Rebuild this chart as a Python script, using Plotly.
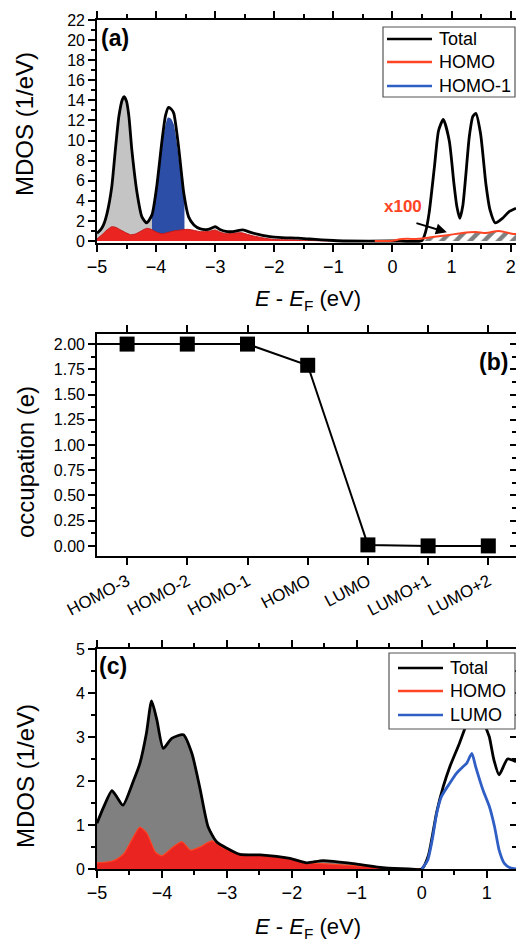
import plotly.graph_objects as go

W, H = 516, 942
FONT = "Liberation Sans, Arial, sans-serif"

# ---------------- panel (a) data ----------------
a_x = [-5.00, -4.94, -4.89, -4.83, -4.75, -4.69, -4.63, -4.57, -4.54, -4.50, -4.46, -4.41,
       -4.32, -4.24, -4.16, -4.07, -3.99, -3.90, -3.84, -3.79, -3.74, -3.70, -3.62, -3.53,
       -3.45, -3.36, -3.25, -3.12, -3.00, -2.92, -2.82, -2.70, -2.53, -2.40, -2.27, -2.15,
       -2.00, -1.80, -1.60, -1.40, -1.20, -1.00, -0.80, 0.00, 0.50, 0.56, 0.62, 0.71, 0.78,
       0.86, 0.96, 1.04, 1.09, 1.14, 1.19, 1.24, 1.30, 1.36, 1.41, 1.49, 1.58, 1.65, 1.74,
       1.86, 1.97, 2.09]
a_total = [0.77, 1.1, 1.6, 2.75, 5.4, 9.05, 12.4, 14.1, 14.36, 13.9, 12.4, 9.05,
           4.7, 2.4, 1.8, 2.6, 5.4, 10.0, 12.5, 13.3, 13.1, 12.7, 9.4, 4.7,
           2.4, 1.6, 1.2, 1.15, 1.42, 1.15, 0.95, 0.93, 1.1, 0.85, 0.65, 0.5,
           0.38, 0.32, 0.28, 0.2, 0.12, 0.05, 0.0, 0.0, 0.05, 0.9, 2.8, 7.4, 11.0,
           12.1, 10.0, 5.7, 3.4, 2.25, 3.5, 6.5, 10.4, 12.4, 12.7, 10.7, 5.7, 3.1, 1.8,
           2.25, 2.9, 3.25]

a_homo_x = [-5.00, -4.92, -4.83, -4.75, -4.68, -4.60, -4.52, -4.43, -4.35, -4.25, -4.16,
            -4.08, -4.00, -3.90, -3.80, -3.70, -3.60, -3.47, -3.35, -3.25, -3.12, -3.00,
            -2.90, -2.80, -2.70, -2.55, -2.45, -2.35, -2.20, -2.00, -1.80, -1.60, -1.40,
            -1.20, -1.00]
a_homo = [0.2, 0.6, 1.1, 1.42, 1.35, 1.1, 0.85, 0.62, 0.7, 1.0, 1.26,
          1.15, 0.9, 0.72, 0.85, 1.0, 1.08, 1.16, 1.05, 0.93, 0.95, 1.1,
          0.85, 0.72, 0.78, 0.82, 0.65, 0.5, 0.32, 0.15, 0.12, 0.1, 0.05,
          0.02, 0.0]

a_homo1_x = [-4.07, -4.00, -3.95, -3.90, -3.85, -3.80, -3.75, -3.70, -3.65, -3.60, -3.55, -3.52]
a_homo1 = [2.6, 4.9, 7.2, 9.6, 11.3, 12.3, 12.2, 11.6, 9.8, 7.5, 5.2, 3.9]
a_homo1_tail_x = [-1.0, -0.3]
a_homo1_tail = [0.0, 0.0]

# HOMO projection multiplied by 100 (above E_F)
a_homo100_x = [-0.30, 0.00, 0.12, 0.25, 0.40, 0.50, 0.68, 0.96, 1.18, 1.41, 1.58, 1.80, 2.05, 2.09]
a_homo100 = [0.0, 0.02, 0.17, 0.22, 0.2, 0.25, 0.4, 0.6, 0.8, 0.9, 0.8, 1.0, 0.7, 0.7]

# ---------------- panel (b) data ----------------
orbitals = ["HOMO-3", "HOMO-2", "HOMO-1", "HOMO", "LUMO", "LUMO+1", "LUMO+2"]
occupation = [2.00, 2.00, 2.00, 1.79, 0.01, 0.00, 0.00]
occ_before = 2.00  # HOMO-4 (off the left edge)

# ---------------- panel (c) data ----------------
c_x = [-5.00, -4.90, -4.77, -4.70, -4.60, -4.44, -4.34, -4.24, -4.16, -4.08, -3.98, -3.85,
       -3.67, -3.54, -3.42, -3.29, -3.16, -3.00, -2.80, -2.49, -2.03, -1.77, -1.52, -1.00,
       -0.60, -0.20, 0.00, 0.10, 0.23, 0.33, 0.43, 0.58, 0.66, 0.74, 0.82, 0.92, 1.00,
       1.04, 1.11, 1.19, 1.32, 1.45]
c_total = [1.04, 1.4, 1.78, 1.65, 1.45, 2.0, 2.4, 3.08, 3.82, 3.4, 2.74, 2.97,
           3.05, 2.63, 1.87, 0.96, 0.62, 0.47, 0.33, 0.32, 0.24, 0.14, 0.19, 0.11,
           0.03, 0.0, 0.0, 0.3, 1.3, 1.87, 2.32, 2.86, 3.18, 3.5, 3.7, 3.5, 3.16,
           3.0, 2.48, 2.14, 2.5, 2.44]
c_homo_x = [-5.00, -4.79, -4.68, -4.58, -4.44, -4.34, -4.23, -4.10, -4.00, -3.82, -3.69,
            -3.56, -3.40, -3.23, -3.05, -2.80, -2.49, -2.13, -1.77, -1.52, -1.00, -0.48, 0.00]
c_homo = [0.14, 0.17, 0.24, 0.36, 0.73, 0.95, 0.81, 0.38, 0.3, 0.51, 0.62,
          0.43, 0.51, 0.64, 0.47, 0.34, 0.31, 0.27, 0.14, 0.12, 0.07, 0.02, 0.0]
c_lumo_x = [0.00, 0.09, 0.16, 0.23, 0.30, 0.43, 0.53, 0.63, 0.69, 0.77, 0.83, 0.94, 1.04,
            1.12, 1.19, 1.27, 1.37, 1.45]
c_lumo = [0.0, 0.2, 0.66, 1.27, 1.64, 1.95, 2.17, 2.32, 2.4, 2.63, 2.32, 1.8, 1.42,
          0.96, 0.43, 0.13, 0.02, 0.0]

# ---------------- styling ----------------
BLACK = "#000000"
RED_FILL = "#ea2420"
RED_LINE = "#ff4424"
BLUE_FILL = "#2c4ea6"
BLUE_LINE = "#2f5fc4"
GRAY_A = "#c4c4c4"
GRAY_C = "#808080"


def px(x):
    return x / W


def py(y):
    return 1 - y / H


fig = go.Figure()

# panel (a)
gx = [x for x in a_x if x <= -4.07]
gy = [v for x, v in zip(a_x, a_total) if x <= -4.07]
fig.add_trace(go.Scatter(x=gx, y=gy, fill="tozeroy", mode="lines", line=dict(width=0, shape="spline", smoothing=0.6),
                         fillcolor=GRAY_A, xaxis="x", yaxis="y"))
fig.add_trace(go.Scatter(x=a_homo1_x, y=a_homo1, fill="tozeroy", mode="lines",
                         line=dict(width=0, shape="spline", smoothing=0.6), fillcolor=BLUE_FILL,
                         xaxis="x", yaxis="y"))
fig.add_trace(go.Scatter(x=a_homo_x, y=a_homo, fill="tozeroy", mode="lines",
                         line=dict(width=1, color="#c81818", shape="spline", smoothing=0.6),
                         fillcolor=RED_FILL, xaxis="x", yaxis="y"))
hx = [x for x in a_homo100_x if x >= 0.5]
hy = [v for x, v in zip(a_homo100_x, a_homo100) if x >= 0.5]
fig.add_trace(go.Scatter(x=hx, y=hy, fill="tozeroy", mode="lines", line=dict(width=0, shape="spline"),
                         fillcolor="rgba(0,0,0,0)",
                         fillpattern=dict(shape="/", size=10, solidity=0.45, fgcolor="black",
                                          bgcolor="rgba(0,0,0,0)"),
                         xaxis="x", yaxis="y"))
fig.add_trace(go.Scatter(x=a_homo1_tail_x, y=a_homo1_tail, mode="lines",
                         line=dict(width=2, color=BLUE_LINE), xaxis="x", yaxis="y"))
fig.add_trace(go.Scatter(x=a_x, y=a_total, mode="lines",
                         line=dict(width=2.8, color=BLACK, shape="spline", smoothing=0.6),
                         xaxis="x", yaxis="y"))
fig.add_trace(go.Scatter(x=a_homo100_x, y=a_homo100, mode="lines",
                         line=dict(width=2, color=RED_LINE, shape="spline", smoothing=0.6),
                         xaxis="x", yaxis="y"))

# panel (b)
pos = list(range(len(orbitals)))
fig.add_trace(go.Scatter(x=[-1] + pos, y=[occ_before] + occupation, mode="lines+markers",
                         line=dict(width=2, color=BLACK),
                         marker=dict(symbol="square", size=15, color=BLACK),
                         xaxis="x2", yaxis="y2"))
fig.add_trace(go.Scatter(x=pos, y=occupation, mode="lines", line=dict(width=0), opacity=0,
                         hoverinfo="skip", xaxis="x2", yaxis="y4"))

# panel (c)
cgx = [x for x in c_x if x <= 0]
cgy = [v for x, v in zip(c_x, c_total) if x <= 0]
fig.add_trace(go.Scatter(x=cgx, y=cgy, fill="tozeroy", mode="lines", line=dict(width=0, shape="spline", smoothing=0.6),
                         fillcolor=GRAY_C, xaxis="x3", yaxis="y3"))
fig.add_trace(go.Scatter(x=c_homo_x, y=c_homo, fill="tozeroy", mode="lines",
                         line=dict(width=1.2, color=RED_LINE, shape="spline", smoothing=0.6),
                         fillcolor=RED_FILL, xaxis="x3", yaxis="y3"))
fig.add_trace(go.Scatter(x=c_x, y=c_total, mode="lines",
                         line=dict(width=2.8, color=BLACK, shape="spline", smoothing=0.6),
                         xaxis="x3", yaxis="y3"))
fig.add_trace(go.Scatter(x=c_lumo_x, y=c_lumo, mode="lines",
                         line=dict(width=2.8, color=BLUE_LINE, shape="spline", smoothing=0.6),
                         xaxis="x3", yaxis="y3"))
fig.add_trace(go.Scatter(x=c_lumo_x, y=c_lumo, mode="lines", line=dict(width=0), opacity=0,
                         hoverinfo="skip", xaxis="x3", yaxis="y5"))

for tr in fig.data:
    tr.showlegend = False
    if tr.hoverinfo is None:
        tr.hoverinfo = "skip"

common = dict(showgrid=False, zeroline=False, showline=True, linecolor="black", linewidth=1.6,
              ticks="outside", ticklen=7, tickwidth=1.6, tickcolor="black", automargin=False,
              tickfont=dict(family=FONT, size=18, color="black"), ticklabeloverflow="allow")

fig.update_layout(
    width=W, height=H, margin=dict(l=0, r=0, t=0, b=0, autoexpand=False),
    paper_bgcolor="white", plot_bgcolor="white", showlegend=False,
    font=dict(family=FONT, color="black"),
    xaxis=dict(domain=[px(97), 1], range=[-5, 2.09], anchor="y", tick0=0, dtick=1, mirror="ticks",
               minor=dict(dtick=0.5, ticklen=4, tickwidth=1.6, ticks="outside", tickcolor="black"),
               **common),
    yaxis=dict(domain=[py(243), py(20)], range=[-0.2, 22], anchor="x", tick0=0, dtick=2,
               minor=dict(dtick=1, ticklen=4, tickwidth=1.6, ticks="outside", tickcolor="black"),
               **{**common, "tickfont": dict(family=FONT, size=16, color="black")}),
    xaxis2=dict(domain=[px(97), 1], range=[-0.5, 6.46], anchor="y2", tickmode="array",
                tickvals=pos, ticktext=orbitals, tickangle=-28, mirror="ticks",
                **{**common, "tickfont": dict(family=FONT, size=17, color="black")}),
    yaxis2=dict(domain=[py(556), py(334)], range=[-0.1, 2.1], anchor="x2", tick0=0, dtick=0.25,
                tickformat=".2f",
                minor=dict(dtick=0.125, ticklen=4, tickwidth=1.6, ticks="outside", tickcolor="black"),
                **{**common, "tickfont": dict(family=FONT, size=16, color="black")}),
    yaxis4=dict(overlaying="y2", side="right", anchor="x2", range=[-0.1, 2.1], tick0=0, dtick=0.25,
                showticklabels=False, showline=False, showgrid=False, zeroline=False, automargin=False,
                ticks="inside", ticklen=6, tickwidth=1.6, tickcolor="black",
                minor=dict(dtick=0.125, ticklen=4, tickwidth=1.6, ticks="inside", tickcolor="black")),
    xaxis3=dict(domain=[px(97), 1], range=[-5, 1.45], anchor="y3", tick0=0, dtick=1, mirror="ticks",
                minor=dict(dtick=0.5, ticklen=4, tickwidth=1.6, ticks="outside", tickcolor="black"),
                **common),
    yaxis3=dict(domain=[py(869), py(649)], range=[0, 5], anchor="x3", tick0=0, dtick=1,
                minor=dict(dtick=0.5, ticklen=4, tickwidth=1.6, ticks="outside", tickcolor="black"),
                **{**common, "tickfont": dict(family=FONT, size=16, color="black")}),
    yaxis5=dict(overlaying="y3", side="right", anchor="x3", range=[0, 5], tick0=0, dtick=1,
                showticklabels=False, showline=False, showgrid=False, zeroline=False, automargin=False,
                ticks="inside", ticklen=6, tickwidth=1.6, tickcolor="black",
                minor=dict(dtick=0.5, ticklen=4, tickwidth=1.6, ticks="inside", tickcolor="black")),
)

ann = []
shapes = []

def text(x, y, t, size, **kw):
    d = dict(x=px(x), y=py(y), xref="paper", yref="paper", text=t, showarrow=False,
             font=dict(family=FONT, size=size, color=kw.pop("color", "black")),
             xanchor=kw.pop("xanchor", "center"), yanchor=kw.pop("yanchor", "middle"))
    d.update(kw)
    ann.append(d)

# axis titles
text(25, 124, "MDOS (1/eV)", 24, textangle=-90)
text(25, 462, "occupation (e)", 24, textangle=-90)
text(25, 776, "MDOS (1/eV)", 24, textangle=-90)
XT = "<i>E</i> - <i>E</i><sub>F</sub> (eV)"
text(308, 300, XT, 22)
text(308, 928, XT, 22)

# panel labels
text(115, 38, "<b>(a)</b>", 23)
text(493, 362, "<b>(b)</b>", 23)
text(113, 666, "<b>(c)</b>", 23)

# x100 label and arrow (panel a)
ann.append(dict(x=0.18, y=3.43, xref="x", yref="y", text="<b>x100</b>", showarrow=False,
                font=dict(family=FONT, size=17, color=RED_LINE)))
ann.append(dict(x=0.92, y=0.87, ax=0.38, ay=1.82, xref="x", yref="y", axref="x", ayref="y",
                text="", showarrow=True, arrowhead=2, arrowsize=1.1, arrowwidth=2, arrowcolor="black"))

# legends
def legend(x0, x1, y0, y1, lx0, lx1, rows):
    shapes.append(dict(type="rect", xref="paper", yref="paper", x0=px(x0), x1=px(x1),
                       y0=py(y1), y1=py(y0), fillcolor="white",
                       line=dict(color="#555555", width=1.2), layer="above"))
    for yy, name, col in rows:
        shapes.append(dict(type="line", xref="paper", yref="paper", x0=px(lx0), x1=px(lx1),
                           y0=py(yy), y1=py(yy), line=dict(color=col, width=2.6), layer="above"))
        text(lx1 + 5, yy, name, 18, xanchor="left")

legend(383, 515, 27, 97, 387, 432,
       [(39, "Total", BLACK), (62, "HOMO", RED_LINE), (86, "HOMO-1", BLUE_LINE)])
legend(389, 515, 653, 729, 398, 443,
       [(668, "Total", BLACK), (691, "HOMO", RED_LINE), (715, "LUMO", BLUE_LINE)])

fig.update_layout(annotations=ann, shapes=shapes)
fig.write_html("out.html", config={"displayModeBar": False},
               post_script="document.body.style.margin='0';document.body.style.padding='0';")
